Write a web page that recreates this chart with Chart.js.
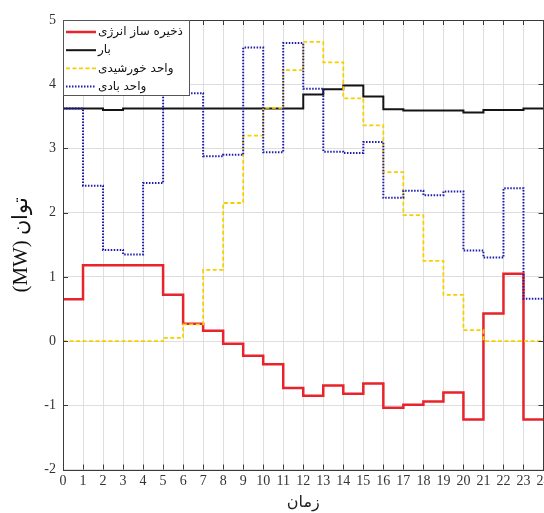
<!DOCTYPE html>
<html>
<head>
<meta charset="utf-8">
<script src="https://cdn.jsdelivr.net/npm/chart.js@4"></script>
<style>
  html, body { margin: 0; padding: 0; background: #fff; }
</style>
</head>
<body>
<canvas id="grafica" width="544" height="513"></canvas>
<script>
// ساعات شبانه روز
const hours = [0,1,2,3,4,5,6,7,8,9,10,11,12,13,14,15,16,17,18,19,20,21,22,23];
const hourTicks = [0,1,2,3,4,5,6,7,8,9,10,11,12,13,14,15,16,17,18,19,20,21,22,23,24];
const powerTicks = [-2,-1,0,1,2,3,4,5];

// توان هر واحد (MW)
const storage = [0.65,1.18,1.18,1.18,1.18,0.72,0.27,0.16,-0.04,-0.23,-0.36,-0.73,-0.85,-0.69,-0.82,-0.66,-1.04,-0.99,-0.94,-0.80,-1.22,0.43,1.05,-1.22];
const load    = [3.62,3.62,3.60,3.62,3.62,3.62,3.62,3.62,3.62,3.62,3.62,3.62,3.84,3.92,3.98,3.81,3.61,3.59,3.59,3.59,3.56,3.60,3.60,3.62];
const solar   = [0,0,0,0,0,0.05,0.26,1.11,2.15,3.20,3.63,4.22,4.66,4.34,3.78,3.36,2.63,1.96,1.25,0.72,0.17,0,0,0];
const wind    = [3.62,2.42,1.42,1.35,2.46,3.86,3.86,2.88,2.90,4.57,2.94,4.64,3.93,2.95,2.93,3.10,2.23,2.34,2.27,2.33,1.41,1.30,2.38,0.66];

const seriesNames = ['ذخیره ساز انرژی', 'بار', 'واحد خورشیدی', 'واحد بادی'];

// escalón: cada valor se mantiene hasta la hora siguiente
function steps(vals) {
  const pts = hours.map((h, i) => ({ x: h, y: vals[i] }));
  pts.push({ x: hours[hours.length - 1] + 1, y: vals[vals.length - 1] });
  return pts;
}

const serif = "'Liberation Serif', 'DejaVu Serif', serif";
const persian = "'DejaVu Sans', 'Noto Sans', sans-serif";

// marco y marcas hacia adentro
const framePlugin = {
  id: 'frame',
  afterDatasetsDraw(chart) {
    const { ctx, chartArea: a, scales } = chart;
    ctx.save();
    ctx.strokeStyle = '#3a3a3a';
    ctx.lineWidth = 1;
    ctx.beginPath();
    hourTicks.forEach(v => {
      const x = Math.round(scales.x.getPixelForValue(v)) + 0.5;
      ctx.moveTo(x, a.bottom); ctx.lineTo(x, a.bottom - 5);
      ctx.moveTo(x, a.top); ctx.lineTo(x, a.top + 5);
    });
    powerTicks.forEach(v => {
      const y = Math.round(scales.y.getPixelForValue(v)) + 0.5;
      ctx.moveTo(a.left, y); ctx.lineTo(a.left + 5, y);
      ctx.moveTo(a.right, y); ctx.lineTo(a.right - 5, y);
    });
    ctx.stroke();
    ctx.strokeRect(Math.round(a.left) + 0.5, Math.round(a.top) + 0.5,
                   Math.round(a.right - a.left) - 1, Math.round(a.bottom - a.top));
    ctx.restore();
  }
};

// leyenda dentro del área
const legendPlugin = {
  id: 'boxLegend',
  afterDraw(chart) {
    const { ctx, chartArea: a } = chart;
    const x0 = a.left, y0 = a.top, w = 126, h = 75;
    ctx.save();
    ctx.fillStyle = '#fff';
    ctx.fillRect(x0, y0, w, h);
    ctx.strokeStyle = '#555';
    ctx.lineWidth = 1;
    ctx.strokeRect(Math.round(x0) + 0.5, Math.round(y0) + 0.5, w, h);
    ctx.font = '12px ' + persian;
    ctx.textBaseline = 'middle';
    ctx.textAlign = 'left';
    chart.data.datasets.forEach((ds, i) => {
      const y = y0 + 12 + i * 18.2;
      ctx.beginPath();
      ctx.strokeStyle = ds.borderColor;
      ctx.lineWidth = ds.borderWidth;
      ctx.setLineDash(ds.borderDash || []);
      ctx.moveTo(x0 + 3, y);
      ctx.lineTo(x0 + 33, y);
      ctx.stroke();
      ctx.setLineDash([]);
      ctx.fillStyle = '#111';
      ctx.fillText(ds.label, x0 + 35, y);
    });
    ctx.restore();
  }
};

const ctx = document.getElementById('grafica').getContext('2d');
new Chart(ctx, {
  type: 'line',
  data: {
    datasets: [
      { label: seriesNames[0], data: steps(storage), borderColor: '#e8232b', borderWidth: 2.5, order: 4 },
      { label: seriesNames[1], data: steps(load), borderColor: '#141414', borderWidth: 2, order: 3 },
      { label: seriesNames[2], data: steps(solar), borderColor: '#f5d000', borderWidth: 1.8, borderDash: [4, 2.5], order: 2 },
      { label: seriesNames[3], data: steps(wind), borderColor: '#1c1cae', borderWidth: 2, borderDash: [1.5, 1.5], order: 1 }
    ]
  },
  options: {
    responsive: false,
    animation: false,
    layout: { padding: { top: 20, right: 0.5, left: 0, bottom: 0 } },
    elements: {
      point: { radius: 0 },
      line: { stepped: 'before', tension: 0, borderJoinStyle: 'miter', fill: false }
    },
    plugins: {
      legend: { display: false },
      tooltip: { enabled: false }
    },
    scales: {
      x: {
        type: 'linear',
        min: 0, max: 24,
        afterBuildTicks: s => { s.ticks = hourTicks.map(v => ({ value: v })); },
        afterFit: s => { s.height = 43.5; s.paddingLeft = 0; s.paddingRight = 0; },
        ticks: { autoSkip: false, maxRotation: 0, padding: 3, color: '#333', font: { family: serif, size: 14 } },
        grid: { color: '#dedede', lineWidth: 1, drawTicks: false },
        border: { display: false },
        title: { display: true, text: 'زمان', color: '#222', font: { family: persian, size: 16 }, padding: { top: 0, bottom: 1 } }
      },
      y: {
        min: -2, max: 5,
        afterBuildTicks: s => { s.ticks = powerTicks.map(v => ({ value: v })); },
        afterFit: s => { s.width = 63; s.paddingTop = 0; s.paddingBottom = 0; },
        ticks: { padding: 7, color: '#333', font: { family: serif, size: 14 } },
        grid: { color: '#dedede', lineWidth: 1, drawTicks: false },
        border: { display: false },
        title: { display: true, text: '\u202Bتوان (MW)\u202C', color: '#111', font: { family: serif, size: 21 }, padding: { top: 9, bottom: 0 } }
      }
    }
  },
  plugins: [framePlugin, legendPlugin]
});
</script>
</body>
</html>
